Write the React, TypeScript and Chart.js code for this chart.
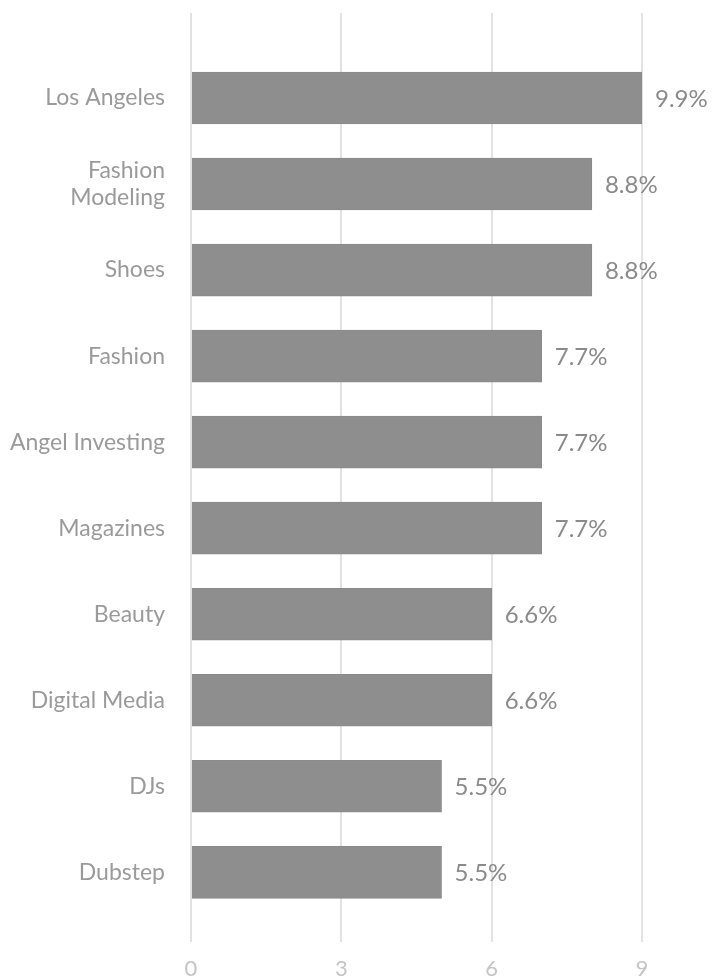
import React, { useEffect, useRef } from "react";
import { Chart, registerables } from "chart.js";

Chart.register(...registerables);

const categories: (string | string[])[] = [
  "Los Angeles",
  ["Fashion", "Modeling"],
  "Shoes",
  "Fashion",
  "Angel Investing",
  "Magazines",
  "Beauty",
  "Digital Media",
  "DJs",
  "Dubstep",
];
const values = [9, 8, 8, 7, 7, 7, 6, 6, 5, 5];
const pctLabels = ["9.9%", "8.8%", "8.8%", "7.7%", "7.7%", "7.7%", "6.6%", "6.6%", "5.5%", "5.5%"];
const xTicks = [0, 3, 6, 9];

const FONT = "Lato, 'Open Sans', sans-serif";

const valueLabelPlugin = {
  id: "valueLabels",
  afterDatasetsDraw(chart: any) {
    const ctx = chart.ctx;
    const meta = chart.getDatasetMeta(0);
    ctx.save();
    ctx.font = `24px ${FONT}`;
    ctx.fillStyle = "#8a8a8a";
    ctx.textAlign = "left";
    ctx.textBaseline = "middle";
    meta.data.forEach((bar: any, i: number) => {
      ctx.fillText(pctLabels[i], bar.x + 13, bar.y + 1);
    });
    ctx.restore();
  },
};

export default function App() {
  const ref = useRef<HTMLCanvasElement>(null);
  useEffect(() => {
    document.body.style.margin = "0";
    const chart = new Chart(ref.current!, {
      type: "bar",
      data: {
        datasets: [
          {
            data: values.map((v, i) => ({ x: v, y: i })) as any,
            backgroundColor: "#8e8e8e",
            borderColor: "#8a8a8a",
            borderWidth: 1,
            barThickness: 52,
          },
        ],
      },
      options: {
        indexAxis: "y",
        animation: false,
        responsive: false,
        layout: { padding: { top: 13, right: 70, bottom: 0, left: 0 } },
        plugins: { legend: { display: false }, tooltip: { enabled: false } },
        scales: {
          x: {
            type: "linear",
            min: 0,
            max: 9,
            offset: false,
            afterBuildTicks: (s: any) => {
              s.ticks = xTicks.map((v) => ({ value: v }));
            },
            afterFit: (s: any) => {
              s.height = 35;
              s.paddingLeft = 0;
              s.paddingRight = 0;
            },
            grid: { color: "#e2e2e2", lineWidth: 2, drawTicks: false },
            border: { display: false },
            ticks: {
              padding: 14,
              maxRotation: 0,
              color: "#c4c4c4",
              font: { family: FONT, size: 22 },
            },
          },
          y: {
            type: "linear",
            reverse: true,
            offset: false,
            min: -0.988,
            max: 9.81,
            afterBuildTicks: (s: any) => {
              s.ticks = categories.map((_, i) => ({ value: i }));
            },
            afterFit: (s: any) => {
              s.width = 191;
              s.paddingTop = 0;
              s.paddingBottom = 0;
            },
            grid: { display: false, drawTicks: false },
            border: { display: false },
            ticks: {
              padding: 26,
              color: "#9a9a9a",
              font: { family: FONT, size: 23, lineHeight: 1.17 },
              callback: (v: any) => categories[v as number] ?? "",
            },
          },
        },
      },
      plugins: [valueLabelPlugin],
    });
    return () => chart.destroy();
  }, []);
  return (
    <div style={{ width: 712, height: 977 }}>
      <canvas ref={ref} width={712} height={977} style={{ display: "block" }} />
    </div>
  );
}
